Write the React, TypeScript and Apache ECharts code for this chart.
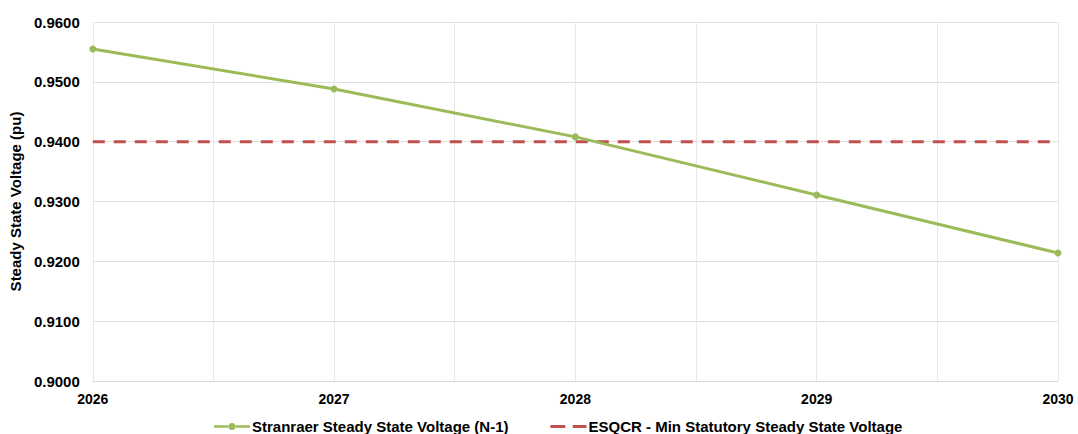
import React, { useEffect, useRef } from "react";
import * as echarts from "echarts";

const years = [2026, 2027, 2028, 2029, 2030];
const voltage = [0.9555, 0.9488, 0.9408, 0.9311, 0.9214];
const minStatutory = [0.94, 0.94, 0.94, 0.94, 0.94];
const seriesNames = [
  "Stranraer Steady State Voltage (N-1)",
  "ESQCR - Min Statutory Steady State Voltage",
];
const yAxisTitle = "Steady State Voltage (pu)";

const GREEN = "#9bbb59";
const RED = "#c0504d";

export default function App() {
  const ref = useRef<HTMLDivElement>(null);
  useEffect(() => {
    if (!ref.current) return;
    const chart = echarts.init(ref.current, undefined, { renderer: "svg" });
    const font = "'Liberation Sans', Arial, sans-serif";
    chart.setOption({
      animation: false,
      textStyle: { fontFamily: font },
      grid: { left: 89, right: 20, top: 22, bottom: 53 },
      legend: {
        bottom: -5,
        left: 209,
        itemGap: 42,
        itemWidth: 36,
        itemHeight: 7,
        symbolKeepAspect: true,
        textStyle: { fontFamily: font, fontWeight: "bold", fontSize: 15, color: "#000", padding: [0, 0, 0, -3] },
        data: [
          {
            name: seriesNames[0],
            icon: "path://M0,2.25h15v2.5h-15z M21,2.25h15v2.5h-15z M14.5,3.5a3.5,3.5 0 1,0 7,0a3.5,3.5 0 1,0 -7,0z",
            itemStyle: { color: GREEN },
          },
          {
            name: seriesNames[1],
            icon: "path://M0,0h14v3h-14z M21,0h13v3h-13z",
            itemStyle: { color: RED },
          },
        ],
      },
      xAxis: {
        type: "value",
        min: 2026,
        max: 2030,
        interval: 0.5,
        axisLine: { show: true, lineStyle: { color: "#d9d9d9", width: 1 } },
        axisTick: { show: false },
        splitLine: { show: true, lineStyle: { color: "#e8e8e8", width: 1 } },
        axisLabel: {
          margin: 11,
          fontFamily: font,
          fontWeight: "bold",
          fontSize: 14,
          color: "#000",
          formatter: (v: number) => (Number.isInteger(v) ? String(v) : ""),
        },
      },
      yAxis: {
        type: "value",
        min: 0.9,
        max: 0.96,
        interval: 0.01,
        name: yAxisTitle,
        nameLocation: "middle",
        nameGap: 65,
        nameTextStyle: { fontFamily: font, fontWeight: "bold", fontSize: 15, color: "#000" },
        axisLine: { show: false },
        axisTick: { show: false },
        splitLine: { show: true, lineStyle: { color: "#e0e0e0", width: 1 } },
        axisLabel: {
          margin: 13,
          fontFamily: font,
          fontWeight: "bold",
          fontSize: 15,
          color: "#000",
          formatter: (v: number) => v.toFixed(4),
        },
      },
      series: [
        {
          name: seriesNames[0],
          type: "line",
          data: years.map((y, i) => [y, voltage[i]]),
          symbol: "circle",
          symbolSize: 7,
          lineStyle: { color: GREEN, width: 3 },
          itemStyle: { color: GREEN },
          z: 3,
        },
        {
          name: seriesNames[1],
          type: "line",
          data: years.map((y, i) => [y, minStatutory[i]]),
          symbol: "none",
          lineStyle: { color: RED, width: 3, type: [12, 9] },
          itemStyle: { color: RED },
          z: 2,
        },
      ],
    });
    return () => chart.dispose();
  }, []);
  return <div ref={ref} style={{ width: 1078, height: 434, position: "absolute", left: 0, top: 0 }} />;
}
